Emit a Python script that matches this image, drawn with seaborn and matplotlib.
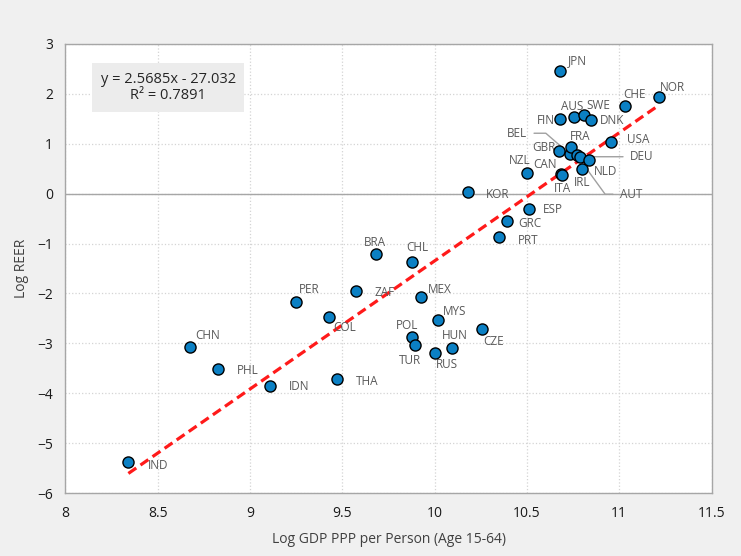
import numpy as np
import pandas as pd
import seaborn as sns
import matplotlib.pyplot as plt

# country codes, log GDP PPP per person (age 15-64), log REER
countries = ['IND', 'CHN', 'PHL', 'IDN', 'PER', 'COL', 'THA', 'ZAF', 'BRA', 'CHL',
             'POL', 'TUR', 'MEX', 'RUS', 'MYS', 'HUN', 'KOR', 'CZE', 'PRT', 'GRC',
             'NZL', 'ESP', 'GBR', 'FIN', 'JPN', 'CAN', 'ITA', 'BEL', 'FRA', 'AUS',
             'AUT', 'DEU', 'IRL', 'SWE', 'NLD', 'DNK', 'USA', 'CHE', 'NOR']
gdp = [8.341, 8.675, 8.828, 9.108, 9.248, 9.428, 9.473, 9.574, 9.683, 9.879,
       9.879, 9.894, 9.925, 10.002, 10.02, 10.093, 10.179, 10.259, 10.347, 10.39,
       10.499, 10.511, 10.674, 10.68, 10.68, 10.686, 10.69, 10.733, 10.739, 10.757,
       10.77, 10.787, 10.80, 10.81, 10.838, 10.845, 10.957, 11.03, 11.216]
reer = [-5.385, -3.07, -3.52, -3.85, -2.17, -2.47, -3.71, -1.96, -1.20, -1.36,
        -2.87, -3.04, -2.07, -3.20, -2.54, -3.09, 0.026, -2.71, -0.875, -0.55,
        0.41, -0.31, 0.86, 1.49, 2.46, 0.40, 0.38, 0.79, 0.93, 1.54,
        0.77, 0.74, 0.49, 1.575, 0.67, 1.475, 1.03, 1.76, 1.93]

# trendline as printed on the chart
slope = 2.5685
intercept = -27.032
r2 = 0.7891

# label offsets in pixels (right, down) from each point
label_off = {
    'IND': (19, 3), 'CHN': (5, -11), 'PHL': (19, 1), 'IDN': (19, 1), 'PER': (3, -12),
    'COL': (4, 11), 'THA': (19, 3), 'ZAF': (18, 1), 'BRA': (-12, -11), 'CHL': (-6, -14),
    'POL': (-16, -11), 'TUR': (-16, 15), 'MEX': (7, -7), 'RUS': (1, 11), 'MYS': (5, -9),
    'HUN': (-10, -12), 'KOR': (18, 2), 'CZE': (1, 13), 'PRT': (19, 3), 'GRC': (12, 2),
    'NZL': (-18, -13), 'ESP': (14, 0), 'GBR': (-27, -3), 'FIN': (-23, 1), 'JPN': (8, -10),
    'CAN': (-28, -9), 'ITA': (-8, 14), 'FRA': (-1, -11), 'AUS': (-13, -10), 'IRL': (-8, 13),
    'SWE': (2, -10), 'NLD': (5, 11), 'DNK': (9, 0), 'USA': (16, -3), 'CHE': (-2, -11),
    'NOR': (1, -10),
}
# labels joined to their point by a leader line
leader_off = {'BEL': (-63, -21), 'DEU': (50, 0), 'AUT': (43, 39)}

df = pd.DataFrame({'country': countries, 'gdp': gdp, 'reer': reer})

plt.rcParams['font.family'] = ['Open Sans', 'DejaVu Sans']
fig = plt.figure(figsize=(7.41, 5.56), dpi=100, facecolor='#f0f0f0')
ax = fig.add_axes([0.0883, 0.1133, 0.872, 0.8076])
ax.set_facecolor('white')

# trendline over the data range
xs = np.array([df['gdp'].min(), df['gdp'].max()])
trend = pd.DataFrame({'x': xs, 'y': slope * xs + intercept})
ax.plot(trend['x'], trend['y'], color='#ff1a1a', lw=2.3, dashes=(3, 1.6), zorder=2)

ax.axhline(0, color='#a6a6a6', lw=1, zorder=1)

sns.scatterplot(data=df, x='gdp', y='reer', s=64, color='#0b80c4',
                edgecolor='black', linewidth=1, zorder=4, ax=ax)

txt_color = '#595959'
for c, x, y in zip(countries, gdp, reer):
    if c in label_off:
        dx, dy = label_off[c]
        ax.annotate(c, (x, y), xytext=(dx, -dy), textcoords='offset pixels',
                    ha='left', va='center', fontsize=8.5, color=txt_color, zorder=3)

leader_rel = {'BEL': ((1, 0.5), 'angle,angleA=0,angleB=-41,rad=0'),
              'DEU': ((0, 0.5), 'arc3'),
              'AUT': ((0, 0.5), 'angle,angleA=0,angleB=126,rad=0')}
for c, x, y in zip(countries, gdp, reer):
    if c in leader_off:
        dx, dy = leader_off[c]
        rel, conn = leader_rel[c]
        ax.annotate(c, (x, y), xytext=(dx, -dy), textcoords='offset pixels',
                    ha='left', va='center', fontsize=8.5, color=txt_color, zorder=3,
                    arrowprops=dict(arrowstyle='-', color='#a0a0a0', lw=1,
                                    relpos=rel, connectionstyle=conn,
                                    shrinkA=3, shrinkB=0))

eq = f'y = {slope}x - {abs(intercept)}\nR\u00b2 = {r2}'
ax.text(0.159, 0.903, eq, transform=ax.transAxes, ha='center', va='center',
        multialignment='center', fontsize=10.5, color='#262626', linespacing=1.15,
        bbox=dict(boxstyle='square,pad=0.6', facecolor='#ececec', edgecolor='none'),
        zorder=5)

ax.set_xlim(8, 11.5)
ax.set_ylim(-6, 3)
ax.set_xticks(np.arange(8, 11.51, 0.5))
ax.set_xticklabels(['8', '8.5', '9', '9.5', '10', '10.5', '11', '11.5'])
ax.set_yticks(range(-6, 4))
ax.grid(True, color='#d4d4d4', linestyle=':', lw=0.9)
ax.set_axisbelow(True)
for s in ax.spines.values():
    s.set_color('#a6a6a6')
    s.set_linewidth(1)
ax.tick_params(length=0, labelsize=10, labelcolor='#1a1a1a', pad=9)
ax.set_xlabel('Log GDP PPP per Person (Age 15-64)', fontsize=10, color='#404040', labelpad=8)
ax.set_ylabel('Log REER', fontsize=10, color='#404040', labelpad=6)

fig.savefig('out.png', dpi=100, facecolor=fig.get_facecolor())
